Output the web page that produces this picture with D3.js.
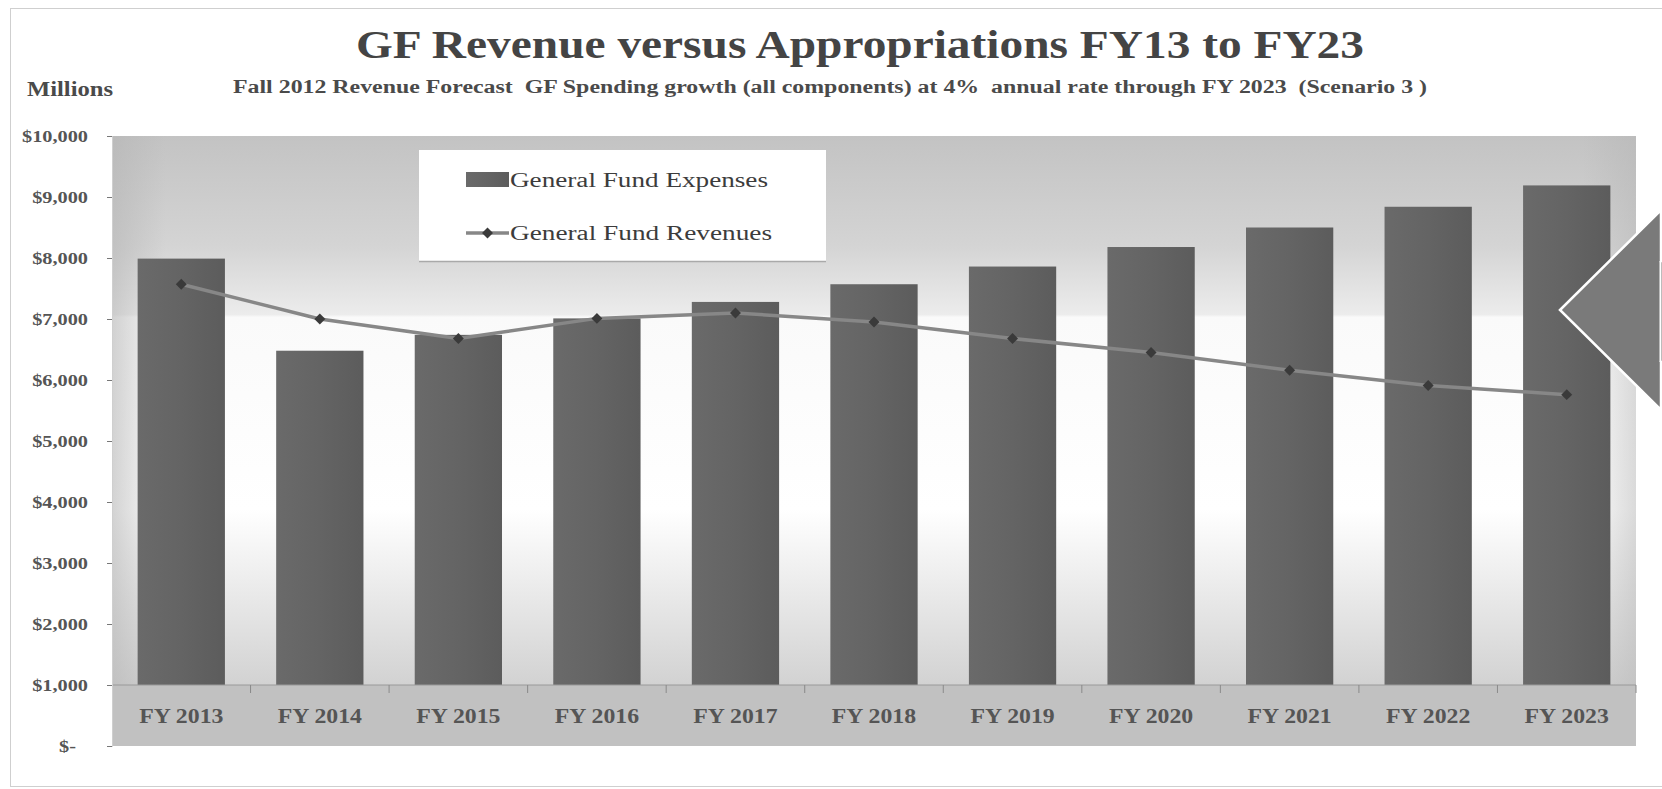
<!DOCTYPE html>
<html><head><meta charset="utf-8">
<script src="https://cdn.jsdelivr.net/npm/d3@7"></script>
<style>body{margin:0;background:#fff;} svg{display:block;} text{white-space:pre;}</style>
</head><body>
<svg id="c" width="1662" height="789"></svg>
<script>
const categories = ["FY 2013","FY 2014","FY 2015","FY 2016","FY 2017","FY 2018","FY 2019","FY 2020","FY 2021","FY 2022","FY 2023"];
const expenses = [7990, 6480, 6740, 7010, 7280, 7570, 7860, 8180, 8500, 8840, 9190];
const revenues = [7570, 7000, 6680, 7010, 7100, 6950, 6680, 6450, 6160, 5910, 5760];
const yTickValues = [0,1000,2000,3000,4000,5000,6000,7000,8000,9000,10000];
const yTickLabels = ["$-","$1,000","$2,000","$3,000","$4,000","$5,000","$6,000","$7,000","$8,000","$9,000","$10,000"];
const seriesNames = ["General Fund Expenses","General Fund Revenues"];
const titleText = "GF Revenue versus Appropriations FY13 to FY23";
const subtitleText = "Fall 2012 Revenue Forecast  GF Spending growth (all components) at 4%  annual rate through FY 2023  (Scenario 3 )";
const unitText = "Millions";

const SERIF = "'Liberation Serif','DejaVu Serif',serif";
const svg = d3.select("#c");
const L = 112, R = 1636;
const x = d3.scaleBand().domain(categories).range([L, R]).paddingInner(0.37).paddingOuter(0.185);
const y = d3.scaleLinear().domain([0, 10000]).range([746, 136]);
const base = 1000;

function stretch(sel, factor) {
  sel.each(function(){ const w = this.getComputedTextLength(); d3.select(this).attr("textLength", w*factor).attr("lengthAdjust","spacingAndGlyphs"); });
}

const defs = svg.append("defs");
const gv = defs.append("linearGradient").attr("id","bgv").attr("x1",0).attr("y1",0).attr("x2",0).attr("y2",1);
[[0,"#c3c3c3"],[0.2,"#d4d4d4"],[0.325,"#ececec"],[0.33,"#fafafa"],[0.68,"#ffffff"],[1,"#d2d2d2"]].forEach(s=>gv.append("stop").attr("offset",s[0]).attr("stop-color",s[1]));
const gh = defs.append("linearGradient").attr("id","bgh").attr("x1",0).attr("y1",0).attr("x2",1).attr("y2",0);
[[0,"#b5b5b5",0.6],[0.035,"#b5b5b5",0],[0.965,"#b5b5b5",0],[1,"#b5b5b5",0.5]].forEach(s=>gh.append("stop").attr("offset",s[0]).attr("stop-color",s[1]).attr("stop-opacity",s[2]));
const gb = defs.append("linearGradient").attr("id","barg").attr("x1",0).attr("y1",0).attr("x2",1).attr("y2",0);
[[0,"#6a6a6a"],[0.5,"#646464"],[1,"#5c5c5c"]].forEach(s=>gb.append("stop").attr("offset",s[0]).attr("stop-color",s[1]));

// outer frame
svg.append("rect").attr("x",10.5).attr("y",8.5).attr("width",1700).attr("height",778).attr("fill","none").attr("stroke","#cfcfcf");

// plot background
svg.append("rect").attr("x",L).attr("y",y(10000)).attr("width",R-L).attr("height",y(base)-y(10000)).attr("fill","url(#bgv)");
svg.append("rect").attr("x",L).attr("y",y(10000)).attr("width",R-L).attr("height",y(base)-y(10000)).attr("fill","url(#bgh)");
// category floor band
svg.append("rect").attr("x",L).attr("y",y(base)).attr("width",R-L).attr("height",y(0)-y(base)).attr("fill","#c1c1c1");

// bars
svg.append("g").selectAll("rect").data(categories).join("rect")
  .attr("x", d=>x(d)).attr("width", x.bandwidth())
  .attr("y", (d,i)=>y(expenses[i])).attr("height", (d,i)=>y(base)-y(expenses[i]))
  .attr("fill","url(#barg)");

// x axis line + category boundary ticks
svg.append("line").attr("x1",L).attr("x2",R).attr("y1",y(base)).attr("y2",y(base)).attr("stroke","#9a9a9a").attr("stroke-width",1.2);
const gap = (x.step()-x.bandwidth())/2;
svg.append("g").selectAll("line").data(categories.slice(1).concat(["__end"])).join("line")
  .attr("x1", d=> d==="__end" ? R : x(d)-gap).attr("x2", d=> d==="__end" ? R : x(d)-gap)
  .attr("y1", y(base)).attr("y2", y(base)+8).attr("stroke","#8a8a8a");

// x labels
const xl = svg.append("g").selectAll("text").data(categories).join("text")
  .attr("x", d=>x(d)+x.bandwidth()/2).attr("y", 723)
  .attr("text-anchor","middle").attr("font-family",SERIF).attr("font-weight","bold")
  .attr("font-size",22).attr("fill","#555555").text(d=>d);
stretch(xl, 1.08);

// y axis
const ya = d3.axisLeft(y).tickValues(yTickValues).tickFormat((d,i)=>yTickLabels[i]).tickSize(5).tickPadding(19);
const yg = svg.append("g").attr("transform",`translate(${L},0)`).call(ya);
yg.select(".domain").attr("stroke","#cfcfcf");
yg.selectAll(".tick line").attr("stroke","#777");
yg.selectAll(".tick text").attr("font-family",SERIF).attr("font-weight","bold").attr("font-size",16).attr("fill","#555555");
stretch(yg.selectAll(".tick text"), 1.27);
yg.selectAll(".tick text").filter(d=>d===0).attr("dx",-12);

// revenue line
const line = d3.line().x((d,i)=>x(categories[i])+x.bandwidth()/2).y(d=>y(d));
svg.append("path").datum(revenues).attr("d",line).attr("fill","none").attr("stroke","#878787").attr("stroke-width",3.5).attr("stroke-linejoin","round");
const diamond = d3.symbol(d3.symbolSquare, 60);
svg.append("g").selectAll("path").data(revenues).join("path")
  .attr("d", diamond).attr("fill","#3a3a3a")
  .attr("transform",(d,i)=>`translate(${x(categories[i])+x.bandwidth()/2},${y(d)}) rotate(45)`);

// legend
const lg = svg.append("g");
lg.append("rect").attr("x",419).attr("y",150).attr("width",407).attr("height",111).attr("fill","#ffffff");
lg.append("line").attr("x1",419).attr("x2",826).attr("y1",261.5).attr("y2",261.5).attr("stroke","#a9a9a9").attr("stroke-width",1.5);
lg.append("rect").attr("x",466).attr("y",172).attr("width",43).attr("height",15).attr("fill","url(#barg)");
lg.append("line").attr("x1",466).attr("x2",509).attr("y1",233).attr("y2",233).attr("stroke","#878787").attr("stroke-width",3.5);
lg.append("path").attr("d",diamond).attr("fill","#3a3a3a").attr("transform","translate(487.5,233) rotate(45)");
lg.append("text").attr("x",510).attr("y",187).attr("font-family",SERIF).attr("font-size",20).attr("fill","#3c3c3c").text(seriesNames[0]).attr("textLength",258).attr("lengthAdjust","spacingAndGlyphs");
lg.append("text").attr("x",510).attr("y",240).attr("font-family",SERIF).attr("font-size",20).attr("fill","#3c3c3c").text(seriesNames[1]).attr("textLength",262).attr("lengthAdjust","spacingAndGlyphs");

// titles
svg.append("text").attr("x",356).attr("y",58).attr("font-family",SERIF).attr("font-weight","bold").attr("font-size",41).attr("fill","#444").text(titleText).attr("textLength",1008).attr("lengthAdjust","spacingAndGlyphs");
svg.append("text").attr("x",233).attr("y",93).attr("font-family",SERIF).attr("font-weight","bold").attr("font-size",18).attr("fill","#4a4a4a").text(subtitleText).attr("textLength",1194).attr("lengthAdjust","spacingAndGlyphs");
svg.append("text").attr("x",27).attr("y",96).attr("font-family",SERIF).attr("font-weight","bold").attr("font-size",20).attr("fill","#4a4a4a").text(unitText).attr("textLength",86).attr("lengthAdjust","spacingAndGlyphs");

// annotation arrow at right edge
svg.append("path").attr("d","M1560,310 L1661,210 L1661,261 L1700,261 L1700,362 L1661,362 L1661,410 Z")
  .attr("fill","#7a7a7a").attr("stroke","#ffffff").attr("stroke-width",2.5).attr("stroke-linejoin","miter");
svg.append("line").attr("x1",1660.5).attr("x2",1660.5).attr("y1",261).attr("y2",362).attr("stroke","#fff").attr("stroke-width",2);
</script>
</body></html>
